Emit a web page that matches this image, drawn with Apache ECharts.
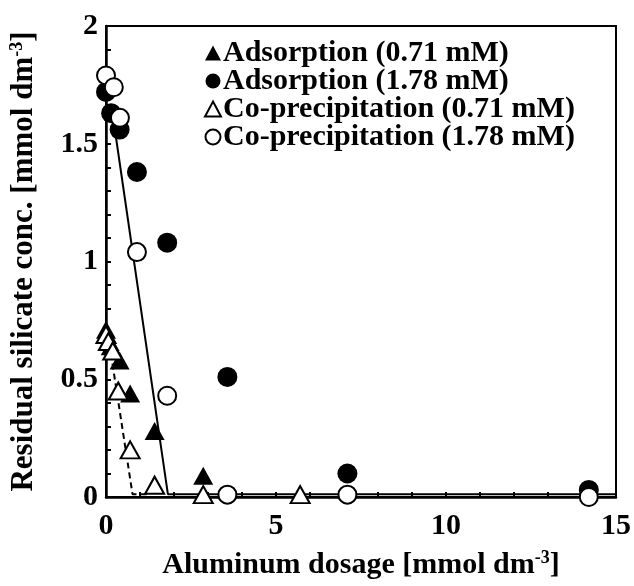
<!DOCTYPE html>
<html lang="en">
  <head>
    <meta charset="UTF-8">
    <title>Residual silicate</title>
    <script src="https://cdn.jsdelivr.net/npm/echarts@6/dist/echarts.min.js"></script>
  </head>
  <body style="margin:0">
    <div id="main" style="width: 634px;height:586px;"></div>
    <script type="text/javascript">
      // Values
      const adsLowX = [0, 0.14, 0.4, 0.71, 1.43, 2.86, 5.71];
      const adsLowY = [0.71, 0.64, 0.58, 0.44, 0.28, 0.09, 0.01];
      const adsHighX = [0, 0.15, 0.4, 0.91, 1.8, 3.57, 7.1, 14.2];
      const adsHighY = [1.72, 1.63, 1.56, 1.38, 1.08, 0.51, 0.10, 0.03];
      const copLowX = [0, 0.07, 0.2, 0.36, 0.71, 1.43, 2.86, 5.71];
      const copLowY = [0.69, 0.66, 0.62, 0.45, 0.20, 0.05, 0.01, 0.01];
      const copHighX = [0, 0.23, 0.41, 0.91, 1.8, 3.57, 7.1, 14.2];
      const copHighY = [1.79, 1.74, 1.61, 1.04, 0.43, 0.01, 0.01, 0.0];
      // guide lines drawn over the data
      const solidX = [0.2, 1.82, 15];
      const solidY = [1.62, 0.012, 0.012];
      const dashX = [0.1, 0.78, 1.3];
      const dashY = [0.65, 0.012, 0.012];

      const names = [
        'Adsorption (0.71 mM)',
        'Adsorption (1.78 mM)',
        'Co-precipitation (0.71 mM)',
        'Co-precipitation (1.78 mM)'
      ];

      const font = 'Liberation Serif';
      const zip = (xs, ys) => xs.map((x, i) => [x, ys[i]]);

      let myChart = echarts.init(document.getElementById('main'));

      const filled = { color: '#000', opacity: 1 };
      const open = { color: '#fff', borderColor: '#000', borderWidth: 2, opacity: 1 };
      const sup = { fontSize: 18, fontFamily: font, fontWeight: 'bold', color: '#000', padding: [0, 0, 14, 0] };

      let options = {
        animation: false,
        grid: {
          left: 106, right: 16, top: 26, bottom: 89,
          show: true, borderColor: '#000', borderWidth: 2
        },
        legend: {
          data: names,
          orient: 'vertical',
          left: 199,
          top: 33,
          itemWidth: 16,
          itemHeight: 15,
          itemGap: -2,
          textStyle: {
            fontFamily: font, fontWeight: 'bold', fontSize: 30,
            color: '#000', lineHeight: 28, padding: [0, 0, 0, -3]
          }
        },
        xAxis: {
          type: 'value',
          min: 0, max: 15, interval: 5,
          name: 'Aluminum dosage [mmol dm{sup|-3}]',
          nameLocation: 'middle',
          nameGap: 52,
          nameTextStyle: {
            fontFamily: font, fontWeight: 'bold', fontSize: 30, color: '#000',
            rich: { sup: sup }
          },
          axisLine: { lineStyle: { color: '#000', width: 2.5 } },
          axisTick: { inside: true, length: 5, lineStyle: { color: '#000', width: 2 } },
          minorTick: { show: true, splitNumber: 5, length: 5, lineStyle: { color: '#000', width: 2 } },
          axisLabel: { fontFamily: font, fontWeight: 'bold', fontSize: 30, color: '#000', margin: 14 },
          splitLine: { show: false }
        },
        yAxis: {
          type: 'value',
          min: 0, max: 2, interval: 0.5,
          name: 'Residual silicate conc. [mmol dm{sup|-3}]',
          nameLocation: 'middle',
          nameGap: 66,
          nameTextStyle: {
            fontFamily: font, fontWeight: 'bold', fontSize: 31, color: '#000',
            rich: { sup: sup }
          },
          axisLine: { lineStyle: { color: '#000', width: 2.5 } },
          axisTick: { inside: true, length: 5, lineStyle: { color: '#000', width: 2 } },
          minorTick: { show: true, splitNumber: 5, length: 5, lineStyle: { color: '#000', width: 2 } },
          axisLabel: { fontFamily: font, fontWeight: 'bold', fontSize: 30, color: '#000', margin: 8 },
          splitLine: { show: false }
        },
        series: [
          {
            type: 'line', data: zip(solidX, solidY), symbol: 'none', z: 1,
            lineStyle: { color: '#000', width: 2 }
          },
          {
            type: 'line', data: zip(dashX, dashY), symbol: 'none', z: 1,
            lineStyle: { color: '#000', width: 2, type: [6, 4] }
          },
          {
            name: names[0], type: 'scatter', data: zip(adsLowX, adsLowY),
            symbol: 'triangle', symbolSize: [20, 18], itemStyle: filled, z: 2
          },
          {
            name: names[1], type: 'scatter', data: zip(adsHighX, adsHighY),
            symbol: 'circle', symbolSize: 20, itemStyle: filled, z: 3
          },
          {
            name: names[2], type: 'scatter', data: zip(copLowX, copLowY),
            symbol: 'triangle', symbolSize: [19, 17], itemStyle: open, z: 4
          },
          {
            name: names[3], type: 'scatter', data: zip(copHighX, copHighY),
            symbol: 'circle', symbolSize: 18, itemStyle: open, z: 5
          }
        ]
      };

      myChart.setOption(options);
    </script>
  </body>
</html>
